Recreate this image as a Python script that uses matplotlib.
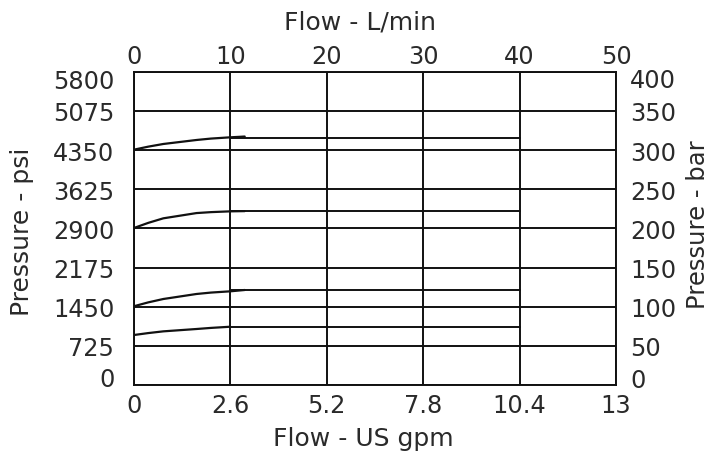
import matplotlib
matplotlib.use("Agg")
import matplotlib.pyplot as plt
import matplotlib.transforms as mtransforms

# --- data ---
lpm_ticks = [0, 10, 20, 30, 40, 50]
lpm_labels = ["0", "10", "20", "30", "40", "50"]
gpm_labels = ["0", "2.6", "5.2", "7.8", "10.4", "13"]
bar_ticks = [0, 50, 100, 150, 200, 250, 300, 350, 400]
bar_labels = ["0", "50", "100", "150", "200", "250", "300", "350", "400"]
psi_labels = ["0", "725", "1450", "2175", "2900", "3625", "4350", "5075", "5800"]

curve_flow = [0, 1.5, 3.06, 6.5, 8, 10, 11.5]
curve_1 = [300.4, 304.3, 307.7, 312.8, 314.6, 316.2, 317.2]
curve_2 = [200.4, 207.0, 212.8, 219.5, 220.7, 221.7, 222.0]
curve_3 = [100.5, 105.5, 109.8, 116.2, 118.0, 119.6, 121.3]
curve_4_flow = [0, 1.5, 3.06, 6.5, 8, 10]
curve_4 = [63.8, 66.3, 68.5, 71.5, 72.9, 74.4]

flat_flow = [10, 40]
flat_1 = [315.5, 315.5]
flat_2 = [221.7, 221.7]
flat_3 = [121.3, 121.3]
flat_4 = [74.4, 74.4]

plt.rcParams['font.family'] = ['DejaVu Sans']
fs = 17.3
fst = 18
tc = '#2a2a2a'
W, H = 711, 452

fig = plt.figure(figsize=(7.11, 4.52), dpi=100)
ax = fig.add_axes([0.1882, 0.146, 0.6782, 0.6932])
ax.set_xlim(0, 50)
ax.set_ylim(0, 400)

lw = 1.4
for v in lpm_ticks:
    ax.axvline(v, color='#111111', lw=lw, zorder=1)
for v in bar_ticks:
    ax.axhline(v, color='#111111', lw=lw, zorder=1)

for f, c in [(curve_flow, curve_1), (curve_flow, curve_2), (curve_flow, curve_3), (curve_4_flow, curve_4)]:
    ax.plot(f, c, color='#111111', lw=1.6, zorder=2, solid_capstyle='round')
for c in [flat_1, flat_2, flat_3, flat_4]:
    ax.plot(flat_flow, c, color='#111111', lw=lw, zorder=2)

for s in ax.spines.values():
    s.set_linewidth(lw)
    s.set_color('#111111')

ax.set_xticks(lpm_ticks)
ax.set_xticklabels(gpm_labels, fontsize=fs, color=tc)
ax.set_yticks(bar_ticks)
ax.set_yticklabels(psi_labels, fontsize=fs, color=tc)
ax.tick_params(axis='x', length=0, pad=6)
ax.tick_params(axis='y', length=0, pad=14)

axt = ax.twiny()
axt.set_xlim(0, 50)
axt.set_xticks(lpm_ticks)
axt.set_xticklabels(lpm_labels, fontsize=fs, color=tc)
axt.tick_params(length=0, pad=3)

axr = ax.twinx()
axr.set_ylim(0, 400)
axr.set_yticks(bar_ticks)
axr.set_yticklabels(bar_labels, fontsize=fs, color=tc)
axr.tick_params(length=0, pad=10)

for a in (axt, axr):
    for s in a.spines.values():
        s.set_visible(False)

# end labels pulled inward, as in the reference
def shift(lbl, dy_px):
    lbl.set_transform(lbl.get_transform() + mtransforms.ScaledTranslation(0, dy_px / 100, fig.dpi_scale_trans))

yl = ax.get_yticklabels()
shift(yl[0], 9)
shift(yl[-1], -7)
yr = axr.get_yticklabels()
shift(yr[0], 8)
shift(yr[-1], -6)

fig.text(360 / W, 1 - 29.5 / H, "Flow - L/min", fontsize=fst, color=tc, ha='center', va='baseline')
fig.text(363 / W, 1 - 446 / H, "Flow - US gpm", fontsize=fst, color=tc, ha='center', va='baseline')
fig.text(22.5 / W, 1 - 232 / H, "Pressure - psi", fontsize=fst, color=tc, ha='center', va='center', rotation=90)
fig.text(698 / W, 1 - 225 / H, "Pressure - bar", fontsize=17.5, color=tc, ha='center', va='center', rotation=90)

fig.savefig("out.png", dpi=100)
